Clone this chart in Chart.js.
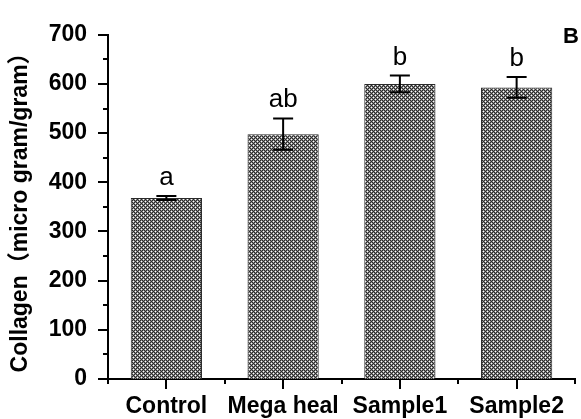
<!DOCTYPE html>
<html>
<head>
<meta charset="utf-8">
<script src="https://cdn.jsdelivr.net/npm/chart.js@4.4.1/dist/chart.umd.min.js"></script>
<style>
  html, body { margin: 0; padding: 0; background: #ffffff; }
  #wrap { position: relative; width: 581px; height: 419px; }
</style>
</head>
<body>
<div id="wrap"><canvas id="c" width="581" height="419"></canvas></div>
<script>
// ---- data ----
const categories = ['Control', 'Mega heal', 'Sample1', 'Sample2'];
const collagen   = [368, 498, 600, 593];
const errors     = [4, 32, 17, 21];
const sigLetters = ['a', 'ab', 'b', 'b'];
const yMin = 0, yMax = 700, yStep = 100, yMinorStep = 50;
const yTitle = 'Collagen\uFF08micro gram/gram\uFF09';
const panelLabel = 'B';

const FONT = '"Liberation Sans", Arial, "Noto Sans CJK SC", sans-serif';

// crosshatch-like pattern
function makePattern() {
  const p = document.createElement('canvas');
  p.width = 4; p.height = 4;
  const g = p.getContext('2d');
  g.fillStyle = '#2a2a2a';
  g.fillRect(0, 0, 4, 4);
  g.fillStyle = '#8a8a8a';
  [[1,0],[0,1],[2,1],[1,2],[3,2],[2,3],[3,0],[0,3]].forEach(([x,y]) => g.fillRect(x, y, 1, 1));
  g.fillStyle = '#ffffff';
  g.fillRect(1, 1, 1, 1);
  g.fillRect(3, 3, 1, 1);
  return g.createPattern(p, 'repeat');
}
const ctx0 = document.getElementById('c').getContext('2d');
const hatch = makePattern();

const extrasPlugin = {
  id: 'extras',
  afterDatasetsDraw(chart) {
    const ctx = chart.ctx;
    const y = chart.scales.y;
    const meta = chart.getDatasetMeta(0);
    ctx.save();
    ctx.strokeStyle = '#000';
    ctx.lineWidth = 2;
    meta.data.forEach((bar, i) => {
      const cx = bar.x;
      const top = y.getPixelForValue(collagen[i] + errors[i]);
      const bot = y.getPixelForValue(collagen[i] - errors[i]);
      const cap = 10;
      ctx.beginPath();
      ctx.moveTo(cx, top); ctx.lineTo(cx, bot);
      ctx.moveTo(cx - cap, top); ctx.lineTo(cx + cap, top);
      ctx.moveTo(cx - cap, bot); ctx.lineTo(cx + cap, bot);
      ctx.stroke();
      ctx.fillStyle = '#000';
      ctx.font = '26px ' + FONT;
      ctx.textAlign = 'center';
      ctx.textBaseline = 'alphabetic';
      ctx.fillText(sigLetters[i], cx, top - 11);
    });
    ctx.restore();
  },
  afterDraw(chart) {
    const ctx = chart.ctx;
    const x = chart.scales.x, y = chart.scales.y;
    const area = chart.chartArea;
    ctx.save();
    ctx.strokeStyle = '#000';
    ctx.lineWidth = 2;
    ctx.beginPath();
    for (let v = yMin; v <= yMax; v += yMinorStep) {
      const py = Math.round(y.getPixelForValue(v));
      const len = (v % yStep === 0) ? 10 : 5;
      ctx.moveTo(area.left - len, py); ctx.lineTo(area.left, py);
    }
    const n = categories.length;
    for (let i = 0; i < n; i++) {
      const px = Math.round(x.getPixelForValue(i));
      ctx.moveTo(px, area.bottom); ctx.lineTo(px, area.bottom + 10);
    }
    for (let i = 0; i <= n; i++) {
      const px = Math.round(x.getPixelForValue(i - 0.5));
      ctx.moveTo(px, area.bottom); ctx.lineTo(px, area.bottom + 5);
    }
    ctx.stroke();
    ctx.fillStyle = '#000';
    ctx.font = 'bold 22px ' + FONT;
    ctx.textAlign = 'right';
    ctx.textBaseline = 'middle';
    ctx.fillText(panelLabel, chart.width - 2, area.top + 2);
    ctx.restore();
  }
};

new Chart(ctx0, {
  type: 'bar',
  data: {
    labels: categories,
    datasets: [{
      data: collagen,
      backgroundColor: hatch,
      borderColor: '#2a2a2a',
      borderWidth: 1,
      borderSkipped: 'bottom',
      barPercentage: 0.61,
      categoryPercentage: 1.0
    }]
  },
  options: {
    responsive: false,
    animation: false,
    devicePixelRatio: 1,
    layout: { padding: { top: 29, right: 6, left: 0, bottom: 0 } },
    plugins: { legend: { display: false }, tooltip: { enabled: false } },
    scales: {
      x: {
        type: 'category',
        offset: true,
        grid: { display: false, drawTicks: false },
        border: { display: true, color: '#000', width: 2 },
        ticks: {
          color: '#000',
          padding: 14,
          maxRotation: 0,
          autoSkip: false,
          font: { family: FONT, size: 23, weight: 'bold' }
        },
        afterFit(s) { s.height = 40; }
      },
      y: {
        min: yMin, max: yMax,
        grid: { display: false, drawTicks: false },
        border: { display: true, color: '#000', width: 2 },
        ticks: {
          stepSize: yStep,
          color: '#000',
          padding: 21,
          font: { family: FONT, size: 23, weight: 'bold' }
        },
        title: {
          display: true,
          text: yTitle,
          color: '#000',
          padding: { top: 7, bottom: 4 },
          font: { family: FONT, size: 23, weight: 'bold' }
        },
        afterFit(s) { s.width = 108; }
      }
    }
  },
  plugins: [extrasPlugin]
});
</script>
</body>
</html>
